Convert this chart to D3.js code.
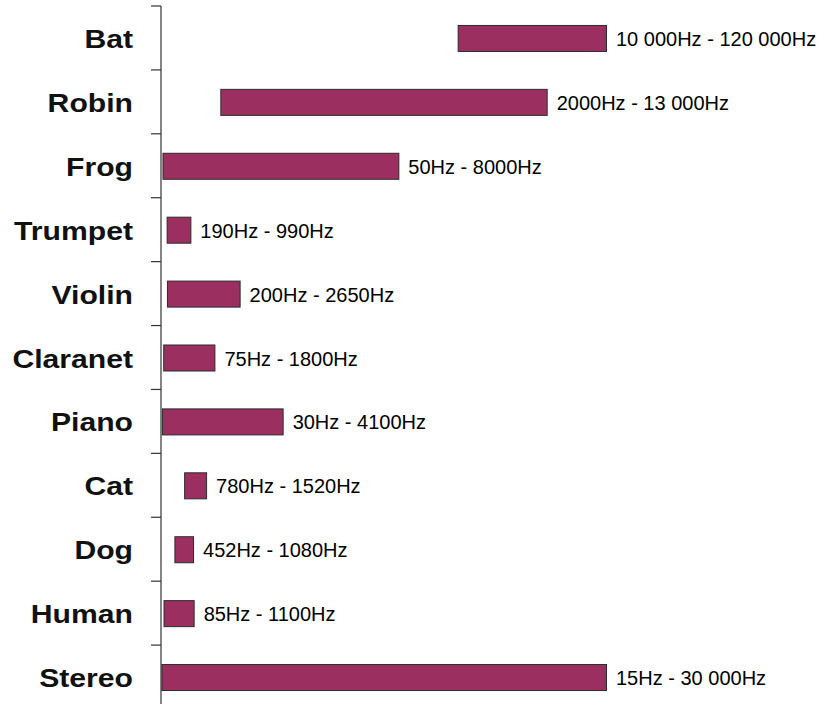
<!DOCTYPE html>
<html lang="en">
<head>
    <meta charset="UTF-8">
    <title>Hearing and Sound Ranges</title>
    <script src="https://d3js.org/d3.v7.min.js"></script>
    <style>
        body {
            margin: 0;
            padding: 0;
            background: #fff;
            overflow: hidden;
        }
        .cat-label {
            font-family: "Liberation Sans", Arial, sans-serif;
            font-weight: bold;
            font-size: 26px;
            fill: #111;
        }
        .range-label {
            font-family: "Liberation Sans", Arial, sans-serif;
            font-size: 20px;
            fill: #000;
        }
        .bar {
            fill: #9b3060;
            stroke: #2b2b2b;
            stroke-width: 1;
        }
    </style>
</head>
<body>
    <svg id="chart" width="824" height="704"></svg>

    <script>
        // Categories, top to bottom
        const categories = ['Bat', 'Robin', 'Frog', 'Trumpet', 'Violin', 'Claranet',
                            'Piano', 'Cat', 'Dog', 'Human', 'Stereo'];

        // Low and high frequency of each range (Hz)
        const lowHz  = [10000, 2000, 50, 190, 200, 75, 30, 780, 452, 85, 15];
        const highHz = [120000, 13000, 8000, 990, 2650, 1800, 4100, 1520, 1080, 1100, 30000];

        // Text shown after each bar
        const rangeLabels = ['10 000Hz - 120 000Hz', '2000Hz - 13 000Hz', '50Hz - 8000Hz',
                             '190Hz - 990Hz', '200Hz - 2650Hz', '75Hz - 1800Hz',
                             '30Hz - 4100Hz', '780Hz - 1520Hz', '452Hz - 1080Hz',
                             '85Hz - 1100Hz', '15Hz - 30 000Hz'];

        const rows = categories.map((c, i) => ({
            name: c, lo: lowHz[i], hi: highHz[i], label: rangeLabels[i]
        }));

        const svg = d3.select('#chart');

        // Frequency axis: linear, anything past 15 kHz is cut off at the edge
        const x = d3.scaleLinear()
            .domain([0, 15000])
            .range([161, 606])
            .clamp(true);

        const y = d3.scaleBand()
            .domain(categories)
            .range([6, 709])
            .paddingInner(0)
            .paddingOuter(0);

        const barH = 26;

        // Vertical axis line with tick marks between categories
        svg.append('line')
            .attr('x1', 161).attr('x2', 161)
            .attr('y1', y.range()[0]).attr('y2', 704)
            .attr('stroke', '#333')
            .attr('stroke-width', 1.2);

        svg.selectAll('.tick')
            .data(categories)
            .enter()
            .append('line')
            .attr('class', 'tick')
            .attr('x1', 151).attr('x2', 161)
            .attr('y1', d => y(d)).attr('y2', d => y(d))
            .attr('stroke', '#333')
            .attr('stroke-width', 1.2);

        // Category names (slightly stretched, as in the original)
        svg.selectAll('.cat-label')
            .data(rows)
            .enter()
            .append('text')
            .attr('class', 'cat-label')
            .attr('text-anchor', 'end')
            .attr('transform', d => `translate(133,${y(d.name) + y.bandwidth() / 2 + 10}) scale(1.16,1)`)
            .text(d => d.name);

        // Range bars
        svg.selectAll('.bar')
            .data(rows)
            .enter()
            .append('rect')
            .attr('class', 'bar')
            .attr('x', d => x(d.lo) + 0.5)
            .attr('y', d => y(d.name) + (y.bandwidth() - barH) / 2 + 0.5)
            .attr('width', d => x(d.hi) - x(d.lo))
            .attr('height', barH);

        // Range labels
        svg.selectAll('.range-label')
            .data(rows)
            .enter()
            .append('text')
            .attr('class', 'range-label')
            .attr('x', d => x(d.hi) + 10)
            .attr('y', d => y(d.name) + y.bandwidth() / 2 + 8)
            .text(d => d.label);
    </script>
</body>
</html>
